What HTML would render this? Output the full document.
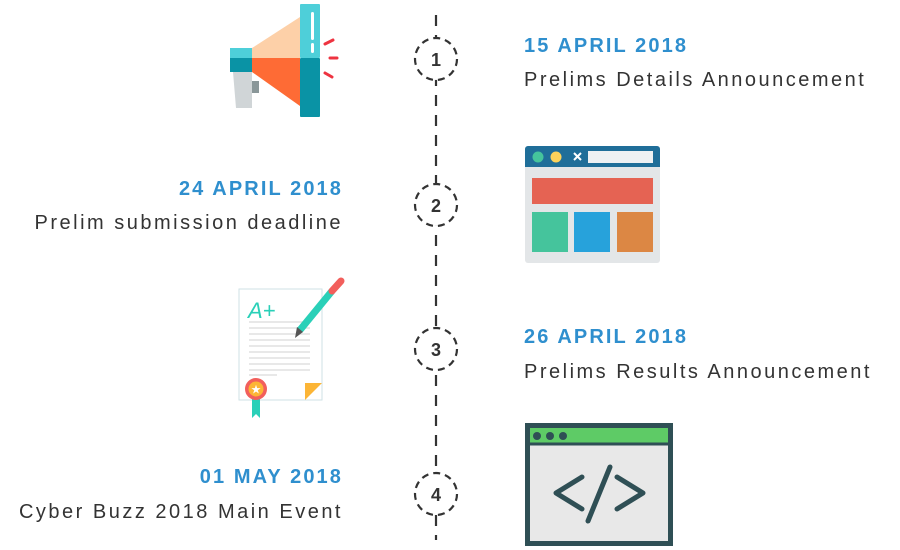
<!DOCTYPE html>
<html><head><meta charset="utf-8"><style>
html,body{margin:0;padding:0;background:#fff;width:900px;height:550px;overflow:hidden}
svg{display:block}
.d{font-family:"Liberation Sans",sans-serif;font-weight:bold;font-size:20px;fill:#2f8fce;letter-spacing:2.1px}
.t{font-family:"Liberation Sans",sans-serif;font-size:20px;fill:#333;letter-spacing:2.5px}
.n{font-family:"Liberation Sans",sans-serif;font-weight:bold;font-size:18px;fill:#333;text-anchor:middle}
</style></head><body>
<svg width="900" height="550" viewBox="0 0 900 550">
<line x1="436" y1="15" x2="436" y2="540" stroke="#333" stroke-width="2.2" stroke-dasharray="11,9"/>
<g fill="#fff" stroke="#333" stroke-width="2.2" stroke-dasharray="7,5">
<circle cx="436" cy="59" r="21"/><circle cx="436" cy="205" r="21"/><circle cx="436" cy="349" r="21"/><circle cx="436" cy="494" r="21"/>
</g>
<text class="n" x="436" y="66">1</text><text class="n" x="436" y="212">2</text><text class="n" x="436" y="356">3</text><text class="n" x="436" y="501">4</text>

<text class="d" x="524" y="52">15 APRIL 2018</text>
<text class="t" x="524" y="86">Prelims Details Announcement</text>
<text class="d" x="343" y="195" text-anchor="end">24 APRIL 2018</text>
<text class="t" x="343" y="229" text-anchor="end">Prelim submission deadline</text>
<text class="d" x="524" y="343">26 APRIL 2018</text>
<text class="t" x="524" y="378">Prelims Results Announcement</text>
<text class="d" x="343" y="483" text-anchor="end">01 MAY 2018</text>
<text class="t" x="343" y="518" text-anchor="end">Cyber Buzz 2018 Main Event</text>

<path d="M233 72 H252 V108 H236 Z" fill="#d0d5d7"/>
<rect x="252" y="81" width="7" height="12" fill="#8a9799"/>
<rect x="230" y="48" width="22" height="10" fill="#4ecfd9"/>
<rect x="230" y="58" width="22" height="14" fill="#0a93a5"/>
<path d="M252 48 L300 17 V58 H252 Z" fill="#fdd0a8"/>
<path d="M252 58 H300 V106 L252 72 Z" fill="#fe6b35"/>
<rect x="300" y="4" width="20" height="54" rx="1" fill="#4ecfd9"/>
<rect x="300" y="58" width="20" height="59" rx="1" fill="#0a93a5"/>
<rect x="311" y="12" width="3" height="28" rx="1.5" fill="#fff"/>
<rect x="311" y="43" width="3" height="10" rx="1.5" fill="#fff"/>
<g stroke="#ee3340" stroke-width="3" stroke-linecap="round">
<line x1="325" y1="44" x2="333" y2="40"/><line x1="330" y1="58" x2="337" y2="58"/><line x1="325" y1="73" x2="332" y2="77"/>
</g>

<rect x="525" y="146" width="135" height="117" rx="3" fill="#e3e6e8"/>
<path d="M528 146 H657 a3 3 0 0 1 3 3 V167 H525 V149 a3 3 0 0 1 3 -3Z" fill="#1f6e99"/>
<circle cx="538" cy="157" r="5.5" fill="#45c49c"/>
<circle cx="556" cy="157" r="5.5" fill="#fdd35b"/>
<path d="M574 153 L581 160 M581 153 L574 160" stroke="#fff" stroke-width="2"/>
<rect x="588" y="151" width="65" height="12" fill="#eef1f3"/>
<rect x="532" y="178" width="121" height="26" fill="#e56353"/>
<rect x="532" y="212" width="36" height="40" fill="#45c49c"/>
<rect x="574" y="212" width="36" height="40" fill="#27a2db"/>
<rect x="617" y="212" width="36" height="40" fill="#dc8744"/>

<rect x="239" y="289" width="83" height="111" fill="#fff" stroke="#cfe2e6" stroke-width="1"/>
<path d="M305 400 L322 383 H305 Z" fill="#fcb536"/>
<text x="248" y="318" font-family="Liberation Sans,sans-serif" font-style="italic" font-size="22" fill="#2ad0b8">A+</text>
<g stroke="#e0e0e0" stroke-width="1.5">
<line x1="249" y1="322" x2="310" y2="322"/><line x1="249" y1="328" x2="310" y2="328"/><line x1="249" y1="334" x2="310" y2="334"/><line x1="249" y1="340" x2="310" y2="340"/><line x1="249" y1="346" x2="310" y2="346"/><line x1="249" y1="352" x2="310" y2="352"/><line x1="249" y1="358" x2="310" y2="358"/><line x1="249" y1="364" x2="310" y2="364"/><line x1="249" y1="370" x2="310" y2="370"/><line x1="249" y1="375" x2="277" y2="375"/>
</g>
<line x1="300" y1="330" x2="332" y2="291" stroke="#2ad0b8" stroke-width="7"/>
<line x1="332" y1="291" x2="341" y2="281" stroke="#f25f5c" stroke-width="7" stroke-linecap="round"/>
<path d="M295 338 L297 327 L303 332 Z" fill="#555"/>
<path d="M252 395 V418 L256 414 L260 418 V395 Z" fill="#2ad0b8"/>
<circle cx="256" cy="389" r="11" fill="#f25f5c"/>
<circle cx="256" cy="389" r="7.5" fill="#fcb536"/>
<text x="256" y="393.5" font-size="12" fill="#fff" text-anchor="middle" font-family="DejaVu Sans,sans-serif">★</text>

<rect x="527.5" y="425.5" width="143" height="118" fill="#e8e8e8" stroke="#2f4f55" stroke-width="5"/>
<rect x="530" y="428" width="138" height="15" fill="#5ecb66"/>
<line x1="530" y1="444" x2="668" y2="444" stroke="#2f4f55" stroke-width="3"/>
<circle cx="537" cy="436" r="4" fill="#2f4f55"/><circle cx="550" cy="436" r="4" fill="#2f4f55"/><circle cx="563" cy="436" r="4" fill="#2f4f55"/>
<g fill="none" stroke="#2f4f55" stroke-width="5" stroke-linecap="round" stroke-linejoin="round">
<path d="M582 477 L556 493 L582 509"/><path d="M617 477 L643 493 L617 509"/><path d="M610 467 L588 521"/>
</g>
</svg>
</body></html>
